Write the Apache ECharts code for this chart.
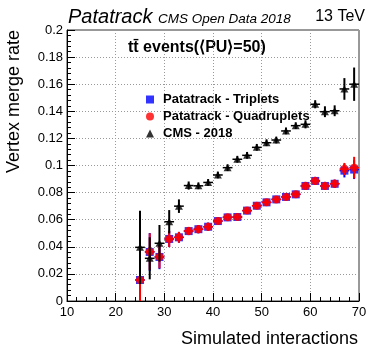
<!DOCTYPE html>
<html>
<head>
<meta charset="utf-8">
<title>Vertex merge rate</title>
<script src="https://cdn.jsdelivr.net/npm/echarts@6/dist/echarts.min.js"></script>
</head>
<body style="margin:0;background:#fff">
	<div id="main" style="width: 374px; height: 359px;"></div>
	<script type="text/javascript">
		// number of simulated interactions (x)
		var interactions = [25, 27, 29, 31, 33, 35, 37, 39, 41, 43, 45, 47, 49, 51, 53, 55, 57, 59, 61, 63, 65, 67, 69];

		// Patatrack - Triplets
		var tripletsRate = [0.0155, 0.0362, 0.0325, 0.0458, 0.047, 0.0516, 0.053, 0.0548, 0.059, 0.0617, 0.062, 0.0667, 0.0703, 0.0728, 0.075, 0.0768, 0.0787, 0.0849, 0.0886, 0.0849, 0.0865, 0.0962, 0.0970];
		var tripletsErr = [0.02, 0.014, 0.009, 0.006, 0.004, 0.003, 0.003, 0.003, 0.0025, 0.0025, 0.0025, 0.0025, 0.0025, 0.0025, 0.0025, 0.0025, 0.0025, 0.003, 0.003, 0.003, 0.003, 0.005, 0.007];

		// Patatrack - Quadruplets
		var quadrupletsRate = [0.0155, 0.0364, 0.0327, 0.0458, 0.047, 0.0517, 0.053, 0.0548, 0.059, 0.0618, 0.062, 0.0667, 0.0703, 0.0728, 0.075, 0.0768, 0.0788, 0.0849, 0.0886, 0.0849, 0.0866, 0.0974, 0.0984];
		var quadrupletsErr = [0.02, 0.0135, 0.0086, 0.006, 0.004, 0.003, 0.003, 0.003, 0.0025, 0.0025, 0.0025, 0.0025, 0.0025, 0.0025, 0.0025, 0.0025, 0.0025, 0.003, 0.003, 0.003, 0.003, 0.0045, 0.008];

		// CMS - 2018
		var cmsRate = [0.0396, 0.0315, 0.0426, 0.0585, 0.070, 0.0852, 0.085, 0.0875, 0.093, 0.0984, 0.1046, 0.1075, 0.1134, 0.1168, 0.1188, 0.1255, 0.1294, 0.1304, 0.1452, 0.1397, 0.1404, 0.1565, 0.160];
		var cmsErr = [0.027, 0.0155, 0.0135, 0.0086, 0.005, 0.003, 0.0025, 0.0025, 0.0025, 0.0025, 0.0025, 0.0025, 0.0025, 0.0025, 0.0025, 0.0025, 0.0025, 0.003, 0.003, 0.004, 0.004, 0.008, 0.0123];

		var font = '"Liberation Sans", Arial, Helvetica, sans-serif';

		function points(rate) {
			return interactions.map(function (x, i) { return [x, rate[i]]; });
		}
		function withErr(rate, err) {
			return interactions.map(function (x, i) { return [x, rate[i], err[i]]; });
		}
		// error bars: vertical = stat. error, horizontal = +-1 (bin half width)
		function errBars(color) {
			return function (params, api) {
				var x = api.value(0), y = api.value(1), e = api.value(2);
				var top = api.coord([x, y + e]);
				var bot = api.coord([x, y - e]);
				var l = api.coord([x - 1, y]);
				var r = api.coord([x + 1, y]);
				return {
					type: 'group',
					children: [
						{ type: 'line', shape: { x1: top[0], y1: top[1], x2: bot[0], y2: bot[1] }, style: { stroke: color, lineWidth: 2 } },
						{ type: 'line', shape: { x1: l[0], y1: l[1], x2: r[0], y2: r[1] }, style: { stroke: color, lineWidth: 1.5 } }
					]
				};
			};
		}

		var myChart = echarts.init(document.getElementById('main'));
		myChart.setOption({
			animation: false,
			backgroundColor: '#fff',
			textStyle: { fontFamily: font },
			grid: {
				left: 67, right: 15, top: 30, bottom: 58,
				show: true, borderColor: '#333', borderWidth: 1
			},
			legend: {
				orient: 'vertical',
				left: 146, top: 93, padding: 0,
				itemWidth: 8, itemHeight: 8, itemGap: 4,
				textStyle: { fontFamily: font, fontWeight: 'bold', fontSize: 13, color: '#000', padding: [0, 0, 0, 4] },
				data: ['Patatrack - Triplets', 'Patatrack - Quadruplets', 'CMS - 2018']
			},
			xAxis: {
				type: 'value', min: 10, max: 70, interval: 10,
				axisLine: { lineStyle: { color: '#000', width: 1 } },
				axisTick: { inside: true, length: 8, lineStyle: { color: '#000' } },
				minorTick: { show: true, splitNumber: 5, length: 4, lineStyle: { color: '#000' } },
				axisLabel: { fontFamily: font, fontSize: 13, color: '#000', margin: 5 },
				splitLine: { show: true, lineStyle: { color: '#999', type: [1, 2] } }
			},
			yAxis: {
				type: 'value', min: 0, max: 0.2, interval: 0.02,
				axisLine: { show: true, lineStyle: { color: '#000', width: 1 } },
				axisTick: { show: true, inside: true, length: 8, lineStyle: { color: '#000' } },
				minorTick: { show: true, splitNumber: 5, length: 4, lineStyle: { color: '#000' } },
				axisLabel: { fontFamily: font, fontSize: 13, color: '#000', margin: 4 },
				splitLine: { show: true, lineStyle: { color: '#999', type: [1, 2] } }
			},
			graphic: [
				{ type: 'text', left: 68, top: 7, style: { text: 'Patatrack', font: 'italic 20px ' + font, fill: '#000' } },
				{ type: 'text', left: 158, top: 12, style: { text: 'CMS Open Data 2018', font: 'italic 13.5px ' + font, fill: '#000' } },
				{ type: 'text', right: 9, top: 9, style: { text: '13 TeV', font: '16px ' + font, fill: '#000' } },
				{ type: 'text', left: 128, top: 40, style: { text: 't\u0074\u0304 events(\u27E8PU\u27E9=50)', font: 'bold 16px ' + font, fill: '#000' } },
				{ type: 'text', x: 14, y: 30, rotation: Math.PI / 2, style: { text: 'Vertex merge rate', font: '18px ' + font, fill: '#000', align: 'right', verticalAlign: 'middle' } },
				{ type: 'text', x: 358, y: 339, style: { text: 'Simulated interactions', font: '18px ' + font, fill: '#000', align: 'right', verticalAlign: 'middle' } }
			],
			series: [
				{ type: 'custom', clip: true, renderItem: errBars('#0000ff'), data: withErr(tripletsRate, tripletsErr), z: 2 },
				{ name: 'Patatrack - Triplets', type: 'scatter', symbol: 'rect', symbolSize: 8, itemStyle: { color: '#0000ff' }, data: points(tripletsRate), z: 3 },
				{ type: 'custom', clip: true, renderItem: errBars('#ff0000'), data: withErr(quadrupletsRate, quadrupletsErr), z: 4 },
				{ name: 'Patatrack - Quadruplets', type: 'scatter', symbol: 'circle', symbolSize: 8, itemStyle: { color: '#ff0000' }, data: points(quadrupletsRate), z: 5 },
				{ type: 'custom', clip: true, renderItem: errBars('#000000'), data: withErr(cmsRate, cmsErr), z: 6 },
				{ name: 'CMS - 2018', type: 'scatter', symbol: 'triangle', symbolSize: [8, 7], itemStyle: { color: '#000000' }, data: points(cmsRate), z: 7 }
			]
		});
	</script>
</body>
</html>
